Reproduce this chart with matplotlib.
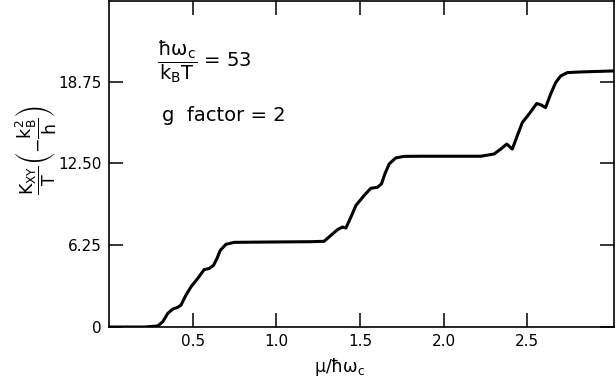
import matplotlib
matplotlib.use("Agg")
import matplotlib.pyplot as plt

plt.rcParams['font.family'] = ['DejaVu Sans']
plt.rcParams['mathtext.fontset'] = 'dejavusans'
plt.rcParams['mathtext.default'] = 'regular'

mu = [0.0, 0.211, 0.291, 0.321, 0.351, 0.381, 0.410, 0.430, 0.460, 0.490, 0.530, 0.569,
      0.599, 0.625, 0.645, 0.665, 0.699, 0.749, 0.829, 1.0, 1.207, 1.286, 1.326, 1.366,
      1.396, 1.416, 1.446, 1.476, 1.525, 1.565, 1.605, 1.629, 1.649, 1.675, 1.714, 1.764,
      1.864, 2.0, 2.222, 2.302, 2.342, 2.378, 2.411, 2.441, 2.471, 2.511, 2.557, 2.581,
      2.61, 2.640, 2.670, 2.700, 2.740, 2.82, 3.02]
kxy = [0.0, 0.0, 0.08, 0.40, 1.04, 1.37, 1.50, 1.67, 2.44, 3.07, 3.71, 4.39,
       4.47, 4.72, 5.23, 5.86, 6.32, 6.47, 6.48, 6.50, 6.52, 6.55, 7.0, 7.44,
       7.64, 7.56, 8.40, 9.29, 10.05, 10.6, 10.68, 10.94, 11.70, 12.46, 12.92, 13.04,
       13.05, 13.05, 13.05, 13.22, 13.6, 13.98, 13.6, 14.62, 15.63, 16.27, 17.08, 16.98,
       16.77, 17.79, 18.67, 19.18, 19.44, 19.49, 19.57]

xticks = [0.5, 1.0, 1.5, 2.0, 2.5]
xticklabels = ['0.5', '1.0', '1.5', '2.0', '2.5']
yticks = [0, 6.25, 12.50, 18.75]
yticklabels = ['0', '6.25', '12.50', '18.75']

fig = plt.figure(figsize=(6.16, 3.85), dpi=100)
ax = fig.add_axes([0.177, 0.1506, 0.820, 0.8464])
ax.plot(mu, kxy, color='black', lw=2.2, solid_joinstyle='round', solid_capstyle='round')
ax.set_xlim(0, 3.02)
ax.set_ylim(0, 24.9)
ax.set_xticks(xticks)
ax.set_xticklabels(xticklabels)
ax.set_yticks(yticks)
ax.set_yticklabels(yticklabels)
ax.tick_params(direction='in', length=10, width=1.1, labelsize=11, pad=5,
               top=True, right=True, color='black')
for s in ax.spines.values():
    s.set_linewidth(1.2)

ax.text(0.095, 0.813, r'$\dfrac{\hbar\omega_c}{k_BT}$ = 53', transform=ax.transAxes,
        fontsize=14, va='center', ha='left')
ax.text(0.105, 0.65, 'g  factor = 2', transform=ax.transAxes,
        fontsize=14, va='center', ha='left')

fig.text(0.058, 0.61, r'$\dfrac{K_{XY}}{T}\left(-\dfrac{k_B^2}{h}\right)$', rotation=90,
         fontsize=12.5, va='center', ha='center')
fig.text(0.552, 0.047, r'$\mu/\hbar\omega_c$', fontsize=12.5, va='center', ha='center')

fig.savefig('out.png', dpi=100)
